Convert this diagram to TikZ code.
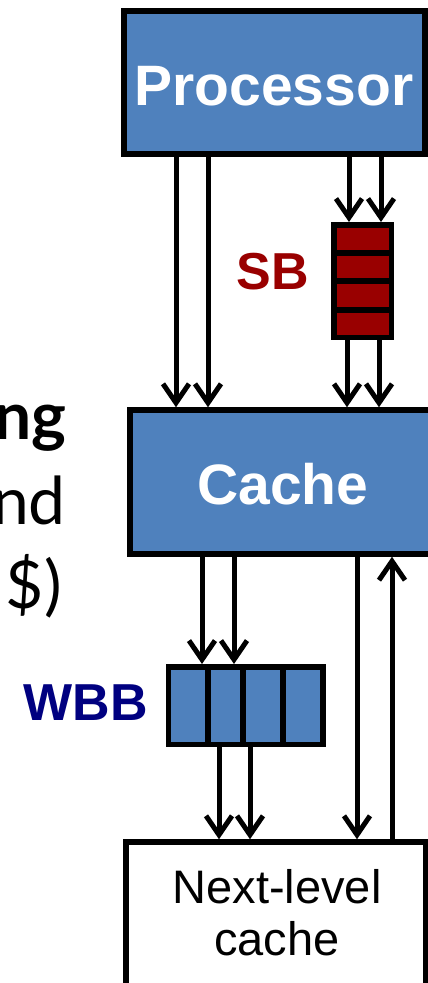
\documentclass[tikz,border=0pt]{standalone}
\usepackage{fontspec}
\setmainfont{Liberation Sans}
\newfontfamily\notefont{Lato}
\usetikzlibrary{arrows.meta}
\definecolor{boxblue}{HTML}{4F81BD}
\definecolor{sbred}{HTML}{990000}
\definecolor{wbbnavy}{HTML}{000080}
\begin{document}
\begin{tikzpicture}[x=1pt,y=-1pt,
  unit/.style={draw=black, line width=5.5pt, inner sep=0pt, fill=boxblue},
  bigtext/.style={text=white, font=\fontsize{57}{68}\selectfont\bfseries, inner sep=0pt},
  tagtext/.style={font=\fontsize{52}{62}\selectfont\bfseries, inner sep=0pt},
  nexttext/.style={font=\fontsize{47}{52}\selectfont, inner sep=0pt, anchor=base},
  notetext/.style={font=\notefont\fontsize{66}{84}\selectfont, inner sep=0pt, anchor=base east},
  divider/.style={line width=5.5pt},
  flow/.style={line width=5pt, -{Straight Barb[length=19pt, width=26pt]}}]
\useasboundingbox (0,0) rectangle (428,983);
\clip (0,0) rectangle (428,983);

% side text, running off the left edge
\node[notetext, font=\notefont\fontsize{66}{84}\selectfont\bfseries] (n1) at (67,439) {ng};
\node[notetext] (n2) at (66,524) {nd};
\node[notetext] (n3) at (62,608) {\$)};

% processor and cache
\node[unit, minimum width=301pt, minimum height=143pt] (proc) at (274.5,82.5) {};
\node[bigtext] (procT) at (274,86) {Processor};
\node[unit, minimum width=306pt, minimum height=144pt] (cache) at (283,482) {};
\node[bigtext] (cacheT) at (283,484) {Cache};

% store buffer
\node[unit, fill=sbred, minimum width=57.5pt, minimum height=112.5pt] (sb) at (362.5,281) {};
\draw[divider] (333.75,253) -- (391.25,253);
\draw[divider] (333.75,281) -- (391.25,281);
\draw[divider] (333.75,310) -- (391.25,310);
\node[tagtext, text=sbred] (sbT) at (273,272) {SB};

% write-back buffer
\node[unit, minimum width=154.5pt, minimum height=77.5pt] (wbb) at (245.75,705.5) {};
\draw[divider] (208,666.75) -- (208,744.25);
\draw[divider] (243,666.75) -- (243,744.25);
\draw[divider] (283,666.75) -- (283,744.25);
\node[tagtext, text=wbbnavy] (wbbT) at (86,703) {WBB};

% next-level cache
\node[unit, fill=white, minimum width=300pt, minimum height=168pt] (nlc) at (276,926) {};
\node[nexttext] (nlcT1) at (277,903) {Next-level};
\node[nexttext] (nlcT2) at (277,955) {cache};

% lanes
\coordinate (p1) at (176,0);
\coordinate (p2) at (208,0);
\coordinate (s1) at (349,0);
\coordinate (s2) at (381,0);
\coordinate (t1) at (347,0);
\coordinate (t2) at (379,0);
\coordinate (c1) at (202,0);
\coordinate (c2) at (234,0);
\coordinate (w1) at (219,0);
\coordinate (w2) at (250,0);
\coordinate (dn) at (357,0);
\coordinate (up) at (392,0);

\draw[flow] (proc.south -| p1) -- (cache.north -| p1);
\draw[flow] (proc.south -| p2) -- (cache.north -| p2);
\draw[flow] (proc.south -| s1) -- (sb.north -| s1);
\draw[flow] (proc.south -| s2) -- (sb.north -| s2);
\draw[flow] (sb.south -| t1) -- (cache.north -| t1);
\draw[flow] (sb.south -| t2) -- (cache.north -| t2);
\draw[flow] (cache.south -| c1) -- (wbb.north -| c1);
\draw[flow] (cache.south -| c2) -- (wbb.north -| c2);
\draw[flow] (wbb.south -| w1) -- (nlc.north -| w1);
\draw[flow] (wbb.south -| w2) -- (nlc.north -| w2);
\draw[flow] (cache.south -| dn) -- (nlc.north -| dn);
\draw[flow] (nlc.north -| up) -- (cache.south -| up);
\end{tikzpicture}
\end{document}
